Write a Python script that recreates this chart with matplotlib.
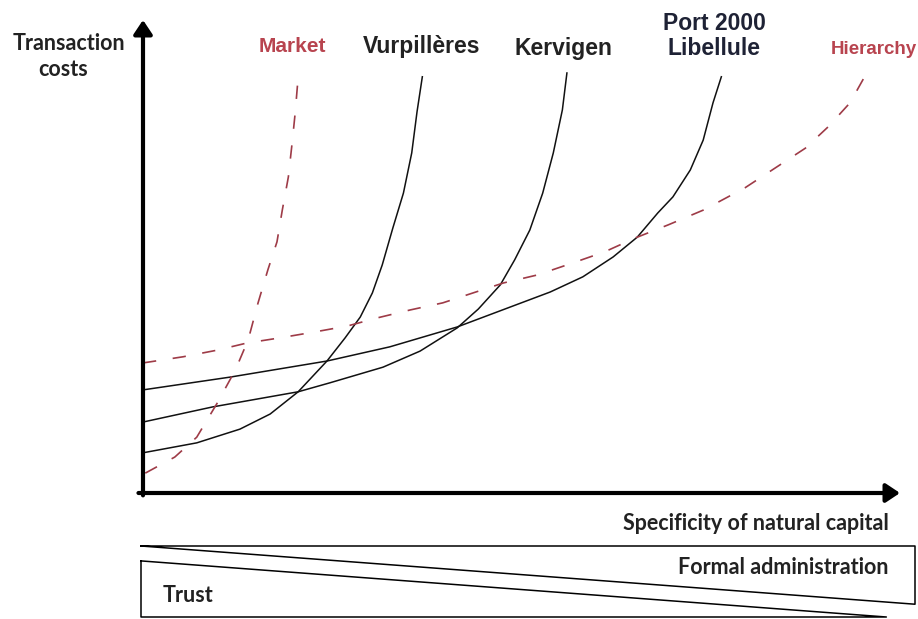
import matplotlib.pyplot as plt

W, H = 918, 619

#curves: x = specificity (0-100), y = transaction costs (0-100)
market_x = [0.3, 4.2, 7.1, 9.8, 12.2, 13.9, 15.2, 16.5, 17.7, 18.4, 19.2, 19.7, 20.1, 20.5]
market_y = [4.2, 7.6, 11.8, 19.0, 26.0, 32.4, 40.2, 47.2, 53.1, 59.8, 66.8, 74.0, 80.3, 88.0]

vurp_x = [0, 7.1, 12.8, 16.8, 20.5, 24.3, 26.7, 28.7, 30.3, 31.6, 33.0, 34.4, 35.5, 36.2, 36.9]
vurp_y = [8.5, 10.6, 13.5, 16.7, 21.4, 27.9, 32.8, 37.2, 42.3, 48.2, 56.0, 63.4, 71.9, 80.6, 88.0]

kerv_x = [0, 9.2, 20.5, 24.7, 31.7, 36.6, 41.5, 44.3, 47.2, 49.1, 51.1, 52.8, 54.2, 55.4, 56.0]
kerv_y = [15.0, 18.2, 21.4, 23.3, 26.6, 30.0, 34.9, 38.9, 44.0, 49.3, 55.6, 63.4, 71.9, 81.0, 88.8]

port_x = [0, 11.5, 24.3, 32.6, 41.5, 53.8, 58.1, 62.1, 65.3, 68.0, 70.0, 72.3, 74.0, 75.3, 76.4]
port_y = [21.8, 24.5, 27.9, 30.9, 35.1, 42.5, 45.7, 49.9, 54.1, 59.2, 62.6, 68.3, 74.6, 82.5, 88.0]

hier_x = [0, 5.3, 9.8, 13.7, 18.1, 22.5, 27.0, 30.9, 35.3, 39.6, 43.6, 47.6, 52.1, 56.7,
          61.0, 65.0, 69.4, 74.0, 79.5, 83.5, 87.5, 90.5, 93.4, 95.6]
hier_y = [27.5, 28.8, 30.2, 31.7, 32.8, 34.0, 35.3, 37.0, 38.7, 40.2, 42.3, 44.4, 46.1, 48.6,
          51.0, 53.9, 56.7, 59.8, 64.5, 68.7, 72.9, 77.4, 82.5, 88.8]

curve_labels = ['Market', 'Vurpillères', 'Kervigen', 'Port 2000\nLibellule', 'Hierarchy']

#bottom band (0-1 units inside the box)
formal_x = [0, 1, 1, 0]
formal_y = [1, 1, 0.18, 1]
trust_x = [0, 0, 0.963, 0]
trust_y = [0.79, 0, 0, 0.79]

red_line = '#9e3b47'
red_text = '#b8444f'
narrow = ['Lato', 'DejaVu Sans']
arial = ['Liberation Sans', 'DejaVu Sans']

fig = plt.figure(figsize=(W / 100, H / 100), dpi=100)

#main chart area: origin at the corner of the two arrows
ax = fig.add_axes([143 / W, 1 - 493 / H, 757 / W, 473 / H])
ax.set_xlim(0, 100)
ax.set_ylim(0, 100)
ax.axis('off')

for xs, ys in [(vurp_x, vurp_y), (kerv_x, kerv_y), (port_x, port_y)]:
    ax.plot(xs, ys, color='#111111', lw=1.1, solid_joinstyle='round', clip_on=False)

for xs, ys in [(market_x, market_y), (hier_x, hier_y)]:
    ax.plot(xs, ys, color=red_line, lw=1.2, linestyle=(0, (8, 10)), clip_on=False)

#axis arrows
arrow = dict(arrowstyle='-|>,head_length=0.6,head_width=0.4', lw=3, color='black',
             shrinkA=0, shrinkB=0, mutation_scale=14)
ax.annotate('', xy=(100, 0), xytext=(-0.6, 0), arrowprops=arrow, annotation_clip=False)
ax.annotate('', xy=(0, 100), xytext=(0, -0.5), arrowprops=arrow, annotation_clip=False)


def label(x, y, s, ha='center', **kw):
    """place text at a pixel position of the picture"""
    fig.text(x / W, 1 - y / H, s, ha=ha, va='center', fontweight='bold', **kw)


label(69, 43, 'Transaction', family=narrow, fontsize=15.5, color='#222222')
label(63, 70, 'costs', family=narrow, fontsize=15.5, color='#222222')

label(292, 47, curve_labels[0], family=arial, fontsize=15, color=red_text)
label(422, 47, curve_labels[1], family=arial, fontsize=16.5, color='#222222')
label(563, 49, curve_labels[2], family=arial, fontsize=16.5, color='#222222')
label(714, 36, curve_labels[3], family=arial, fontsize=16.5, color='#1e2235', linespacing=1.15)
label(874, 50, curve_labels[4], family=arial, fontsize=13.5, color=red_text)

label(889, 523, 'Specificity of natural capital', ha='right', family=narrow, fontsize=15.5, color='#222222')

#trust / formal administration band
bx = fig.add_axes([141 / W, 1 - 617 / H, 774 / W, 71 / H])
bx.set_xlim(0, 1)
bx.set_ylim(0, 1)
bx.axis('off')
bx.plot(formal_x, formal_y, color='black', lw=1.1, clip_on=False)
bx.plot(trust_x, trust_y, color='black', lw=1.1, clip_on=False)

label(889, 568, 'Formal administration', ha='right', family=narrow, fontsize=15.5, color='#222222')
label(163, 596, 'Trust', ha='left', family=narrow, fontsize=15.5, color='#222222')

fig.savefig('out.png', dpi=100, facecolor='white')
